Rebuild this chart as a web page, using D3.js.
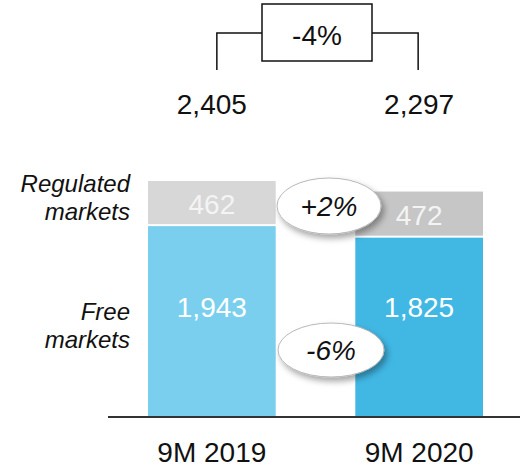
<!DOCTYPE html>
<html>
<head>
<meta charset="utf-8">
<script src="https://cdn.jsdelivr.net/npm/d3@7"></script>
<style>
  body { margin: 0; background: #fff; }
  svg { display: block; font-family: "Liberation Sans", Arial, sans-serif; }
</style>
</head>
<body>
<div id="chart"></div>
<script>
var categories = ["9M 2019", "9M 2020"];
var freeMarkets = [1943, 1825];
var regulatedMarkets = [462, 472];
var totals = [2405, 2297];
var changeTotal = "-4%";
var changeRegulated = "+2%";
var changeFree = "-6%";

var width = 520, height = 471;
var baseY = 416;
var fs = 28;

var blueColors = ["#7acfee", "#41b7e4"];
var greyColors = ["#d7d7d7", "#c6c6c6"];

var svg = d3.select("#chart").append("svg")
    .attr("width", width)
    .attr("height", height);

var defs = svg.append("defs");
var shadow = defs.append("filter").attr("id", "shadow")
    .attr("x", "-30%").attr("y", "-30%").attr("width", "160%").attr("height", "170%");
shadow.append("feDropShadow")
    .attr("dx", 3).attr("dy", 4)
    .attr("stdDeviation", 3)
    .attr("flood-color", "#000")
    .attr("flood-opacity", 0.35);

var x = d3.scaleBand()
    .domain(categories)
    .range([148, 483])
    .paddingInner(0.384)
    .paddingOuter(0);

var y = d3.scaleLinear()
    .domain([0, 2405])
    .range([baseY, 181]);

var fmt = d3.format(",");

var rows = categories.map(function (c, i) {
    return { cat: c, i: i, free: freeMarkets[i], reg: regulatedMarkets[i], total: totals[i] };
});

// free markets segment
svg.selectAll("rect.free").data(rows).enter()
    .append("rect").attr("class", "free")
    .attr("x", function (d) { return x(d.cat); })
    .attr("width", x.bandwidth())
    .attr("y", function (d) { return y(d.free); })
    .attr("height", function (d) { return baseY - y(d.free); })
    .attr("fill", function (d) { return blueColors[d.i]; });

// regulated markets segment (white gap between)
svg.selectAll("rect.reg").data(rows).enter()
    .append("rect").attr("class", "reg")
    .attr("x", function (d) { return x(d.cat); })
    .attr("width", x.bandwidth())
    .attr("y", function (d) { return y(d.free + d.reg); })
    .attr("height", function (d) { return y(d.free) - y(d.free + d.reg) - 2; })
    .attr("fill", function (d) { return greyColors[d.i]; });

// value labels
svg.selectAll("text.regval").data(rows).enter()
    .append("text").attr("class", "regval")
    .attr("x", function (d) { return x(d.cat) + x.bandwidth() / 2; })
    .attr("y", function (d) { return (y(d.free + d.reg) + y(d.free)) / 2 + 10; })
    .attr("text-anchor", "middle")
    .attr("font-size", fs)
    .attr("fill", "#f4f4f4")
    .text(function (d) { return fmt(d.reg); });

svg.selectAll("text.freeval").data(rows).enter()
    .append("text").attr("class", "freeval")
    .attr("x", function (d) { return x(d.cat) + x.bandwidth() / 2; })
    .attr("y", 317)
    .attr("text-anchor", "middle")
    .attr("font-size", fs)
    .attr("fill", "#fff")
    .text(function (d) { return fmt(d.free); });

// axis line
svg.append("line")
    .attr("x1", 108).attr("x2", width)
    .attr("y1", baseY + 1).attr("y2", baseY + 1)
    .attr("stroke", "#333").attr("stroke-width", 2);

// category labels
svg.selectAll("text.cat").data(rows).enter()
    .append("text").attr("class", "cat")
    .attr("x", function (d) { return x(d.cat) + x.bandwidth() / 2; })
    .attr("y", 462)
    .attr("text-anchor", "middle")
    .attr("font-size", fs)
    .attr("fill", "#111")
    .text(function (d) { return d.cat; });

// totals
svg.selectAll("text.total").data(rows).enter()
    .append("text").attr("class", "total")
    .attr("x", function (d) { return x(d.cat) + x.bandwidth() / 2; })
    .attr("y", 114)
    .attr("text-anchor", "middle")
    .attr("font-size", fs)
    .attr("fill", "#111")
    .text(function (d) { return fmt(d.total); });

// bracket with total change
var bx0 = 262, bx1 = 372, by0 = 4, by1 = 61, armY = 33;
var lx = x(categories[0]) + x.bandwidth() / 2 + 5;
var rx = x(categories[1]) + x.bandwidth() / 2 - 1;
var bracket = svg.append("g").attr("fill", "none").attr("stroke", "#111").attr("stroke-width", 1.5);
bracket.append("rect")
    .attr("x", bx0).attr("y", by0)
    .attr("width", bx1 - bx0).attr("height", by1 - by0)
    .attr("fill", "#fff");
bracket.append("path").attr("d", "M" + bx0 + "," + armY + "H" + lx + "V70");
bracket.append("path").attr("d", "M" + bx1 + "," + armY + "H" + rx + "V70");
svg.append("text")
    .attr("x", (bx0 + bx1) / 2).attr("y", 45)
    .attr("text-anchor", "middle")
    .attr("font-size", fs)
    .attr("fill", "#111")
    .text(changeTotal);

// row labels
var rowLabels = [
    { lines: ["Regulated", "markets"], y: 192 },
    { lines: ["Free", "markets"], y: 320 }
];
rowLabels.forEach(function (r) {
    var t = svg.append("text")
        .attr("x", 130).attr("y", r.y)
        .attr("text-anchor", "end")
        .attr("font-size", 24)
        .attr("font-style", "italic")
        .attr("fill", "#111");
    r.lines.forEach(function (l, k) {
        t.append("tspan").attr("x", 130).attr("dy", k === 0 ? 0 : 28).text(l);
    });
});

// change ellipses
var bubbles = [
    { label: changeRegulated, cx: 329, cy: 206, rx: 52, ry: 28 },
    { label: changeFree, cx: 331, cy: 350, rx: 53, ry: 27 }
];
bubbles.forEach(function (b) {
    svg.append("ellipse")
        .attr("cx", b.cx).attr("cy", b.cy)
        .attr("rx", b.rx).attr("ry", b.ry)
        .attr("fill", "#fff")
        .attr("stroke", "#b8b8b8").attr("stroke-width", 1)
        .attr("filter", "url(#shadow)");
    svg.append("text")
        .attr("x", b.cx).attr("y", b.cy + 10)
        .attr("text-anchor", "middle")
        .attr("font-size", fs)
        .attr("font-style", "italic")
        .attr("fill", "#111")
        .text(b.label);
});
</script>
</body>
</html>
